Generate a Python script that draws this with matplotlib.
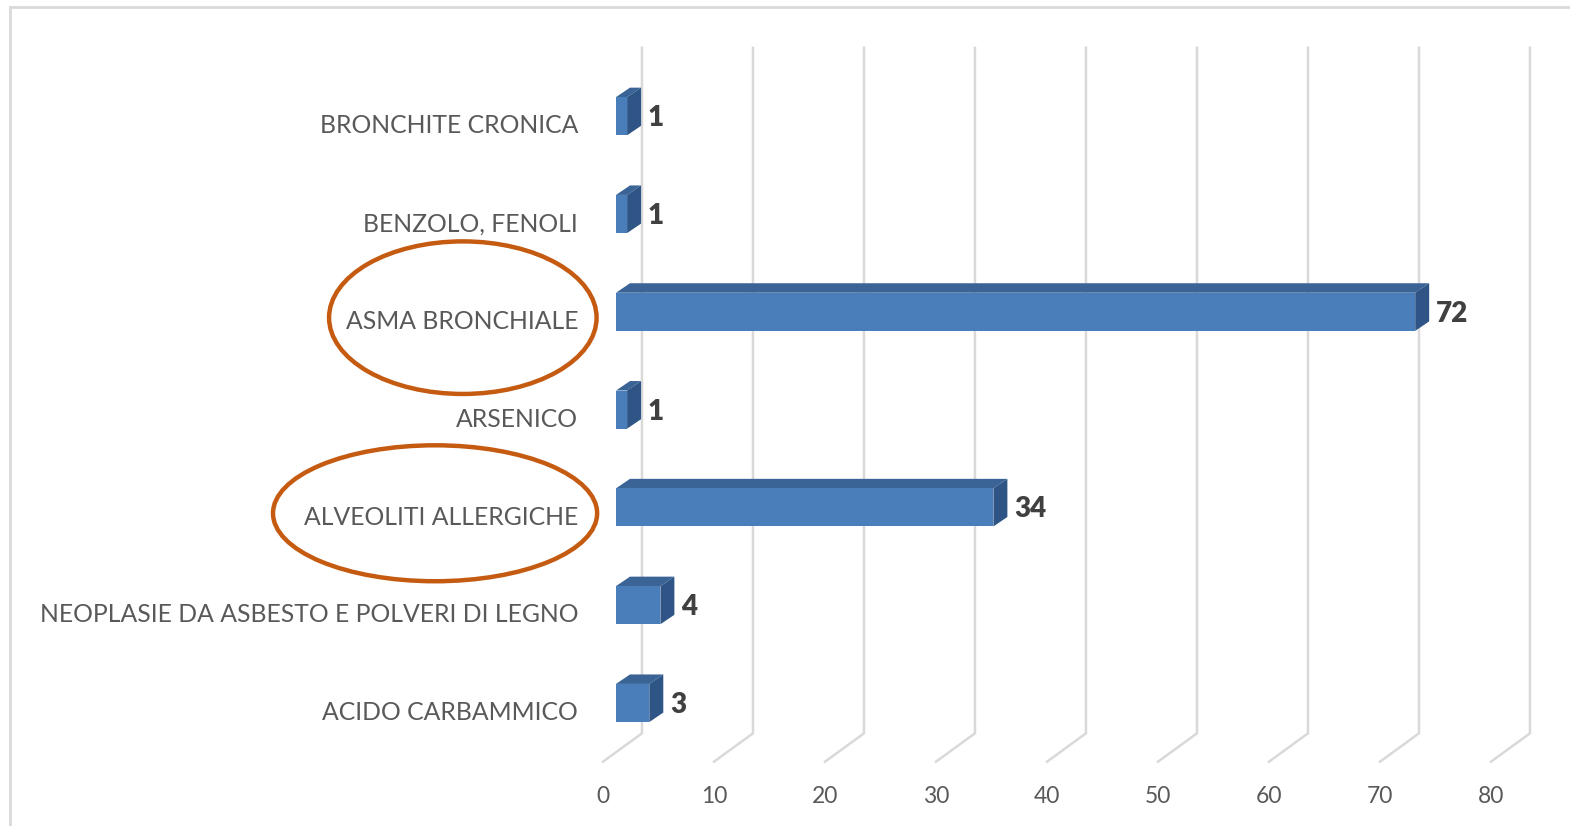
import numpy as np
import matplotlib.pyplot as plt
from matplotlib.patches import Polygon, Rectangle, Ellipse
from matplotlib.lines import Line2D

# --- data (bottom to top) ---
categories = ["ACIDO CARBAMMICO", "NEOPLASIE DA ASBESTO E POLVERI DI LEGNO",
              "ALVEOLITI ALLERGICHE", "ARSENICO", "ASMA BRONCHIALE",
              "BENZOLO, FENOLI", "BRONCHITE CRONICA"]
values = [3, 4, 34, 1, 72, 1, 1]
ticks = [0, 10, 20, 30, 40, 50, 60, 70, 80]
circled = ["ASMA BRONCHIALE", "ALVEOLITI ALLERGICHE"]

# --- style / fake 3d geometry (data units) ---
FRONT = "#4a7ebb"
TOP = "#3b6496"
SIDE = "#2f5586"
GRID = "#d9d9d9"
TXT = "#595959"
bar_h = 0.39
bar_dx, bar_dy = 1.26, 0.097        # bar depth
back_dx, back_dy = 2.34, 0.19       # back wall offset from bar front plane
front_dx, front_dy = -1.17, -0.10   # floor front edge offset
floor_y = -0.50
top_y = 6.70

fig = plt.figure(figsize=(15.7, 8.26), dpi=100)
ax = fig.add_axes([0, 0, 1, 1])
ax.set_xlim(-616 / 11.1, (1570 - 616) / 11.1)
ax.set_ylim((703 - 826) / 97.8, 703 / 97.8)
ax.axis("off")

# frame of the chart area (only top and left visible)
fig.add_artist(Line2D([10 / 1570, 10 / 1570], [0, 1 - 7 / 826], transform=fig.transFigure,
                      color="#d9d9d9", lw=2))
fig.add_artist(Line2D([10 / 1570, 1], [1 - 7 / 826, 1 - 7 / 826], transform=fig.transFigure,
                      color="#d9d9d9", lw=2))

# gridlines: back wall vertical + floor diagonal
for t in ticks:
    bx = t + back_dx
    by = floor_y + back_dy
    fx = t + front_dx
    fy = floor_y + front_dy
    ax.plot([bx, bx, fx], [top_y, by, fy], color=GRID, lw=1.8, solid_joinstyle="miter", zorder=1)
    ax.text(fx, -0.96, str(t), ha="center", va="center", fontsize=16.5,
            family="Lato", color=TXT)

# bars
for i, (cat, v) in enumerate(zip(categories, values)):
    y0, y1 = i - bar_h / 2, i + bar_h / 2
    ax.add_patch(Polygon([(0, y1), (v, y1), (v + bar_dx, y1 + bar_dy), (bar_dx, y1 + bar_dy)],
                         closed=True, fc=TOP, ec="none", zorder=3))
    ax.add_patch(Polygon([(v, y0), (v, y1), (v + bar_dx, y1 + bar_dy), (v + bar_dx, y0 + bar_dy)],
                         closed=True, fc=SIDE, ec="none", zorder=3))
    ax.add_patch(Rectangle((0, y0), v, bar_h, fc=FRONT, ec="none", zorder=4))
    ax.text(v + bar_dx + 0.6, i - 0.02, str(v), ha="left", va="center", fontsize=20,
            family="Lato", fontweight="heavy", color="#404040", zorder=5)
    ax.text(-3.42, i - 0.10, cat, ha="right", va="center", fontsize=17.8,
            family="Lato", color=TXT, zorder=5)

# orange highlight ellipses around labels
ell = {"ASMA BRONCHIALE": (-13.8, 24.1, 1.56), "ALVEOLITI ALLERGICHE": (-16.3, 29.2, 1.39)}
for name in circled:
    i = categories.index(name)
    cx, w, h = ell[name]
    ax.add_patch(Ellipse((cx, i - 0.06), w, h, fill=False, ec="#c55a11", lw=3.2, zorder=6))

fig.savefig("out.png", dpi=100)
